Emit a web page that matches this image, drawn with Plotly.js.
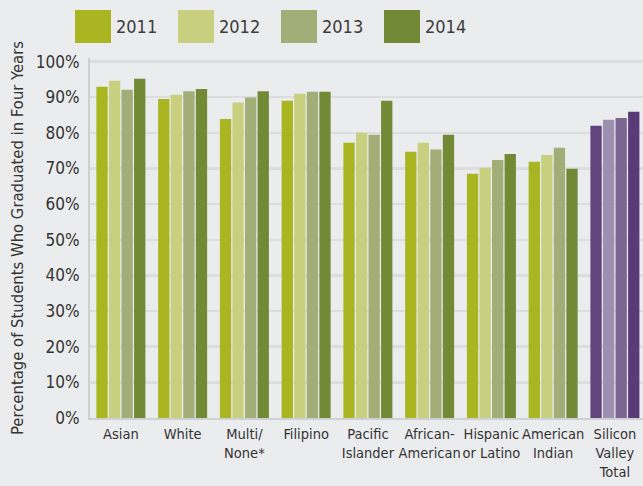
<!DOCTYPE html>
<html><head><meta charset="utf-8">
<script src="https://cdn.plot.ly/plotly-3.0.1.min.js"></script>
<style>html,body{margin:0;padding:0;background:#ebecee;}#chart{width:643px;height:486px;}</style>
</head><body><div id="chart"></div>
<script>
const categories = ["Asian","White","Multi/<br>None*","Filipino","Pacific<br>Islander","African-<br>American","Hispanic<br>or Latino","American<br>Indian","Silicon<br>Valley<br>Total"];
const years = ["2011","2012","2013","2014"];
const v2011 = [92.9, 89.5, 83.9, 89.0, 77.2, 74.7, 68.5, 71.9, 82.0];
const v2012 = [94.6, 90.7, 88.5, 91.0, 80.0, 77.2, 70.2, 73.8, 83.7];
const v2013 = [92.1, 91.7, 89.9, 91.5, 79.5, 75.3, 72.4, 75.8, 84.2];
const v2014 = [95.2, 92.3, 91.7, 91.5, 89.0, 79.5, 74.1, 69.9, 85.9];
const yTicks = [0,10,20,30,40,50,60,70,80,90,100];
const greens = ["#a9b621","#c8cf7f","#a2ad77","#728a36"];
const purples = ["#61457c","#9e8eb0","#7c6591","#5a3b77"];
const series = [v2011, v2012, v2013, v2014];

const FONT = "'DejaVu Sans Condensed','Liberation Sans Narrow','Arial Narrow',sans-serif";
const traces = series.map((vals, i) => ({
  type: 'bar', name: years[i], x: categories, y: vals,
  marker: {color: categories.map((c, j) => j === categories.length - 1 ? purples[i] : greens[i])},
  hoverinfo: 'none', showlegend: false
}));

const L = 90, R = 643, T = 58, B = 417.6;
const px = x => (x - L) / (R - L);
const py = y => (B - y) / (B - T);
const shapes = [], annotations = [];
years.forEach((yr, i) => {
  const x0 = 75 + 103 * i;
  shapes.push({type: 'rect', xref: 'paper', yref: 'paper', x0: px(x0), x1: px(x0 + 36), y0: py(43), y1: py(10), fillcolor: greens[i], line: {width: 0}});
  annotations.push({xref: 'paper', yref: 'paper', x: px(x0 + 39), y: py(27), xanchor: 'left', yanchor: 'middle', text: yr, showarrow: false, font: {family: FONT, size: 18, color: '#3c3c3c'}});
});

const layout = {
  width: 643, height: 486,
  margin: {l: L, r: 0, t: T, b: 486 - B},
  paper_bgcolor: '#ebecee', plot_bgcolor: '#ebecee',
  barmode: 'group', bargap: 0.186, bargroupgap: 0.1,
  font: {family: FONT, color: '#333333', size: 15},
  xaxis: {range: [-0.5, 8.455], showgrid: false, showline: true, linecolor: '#cfd0d2', linewidth: 2, ticks: '', tickangle: 0, tickfont: {size: 14.5}, ticklabelstandoff: 2, fixedrange: true},
  yaxis: {range: [0, 101], tickvals: yTicks, ticktext: yTicks.map(v => v + '%'), showgrid: true, gridcolor: '#dcdddf', gridwidth: 2.5, zeroline: false, showline: true, linecolor: '#cfd0d2', linewidth: 2, ticks: '', tickfont: {size: 17}, ticklabelstandoff: 5,
    title: {text: 'Percentage of Students Who Graduated in Four Years', font: {size: 16.5}, standoff: 8}},
  shapes: shapes, annotations: annotations, showlegend: false
};
Plotly.newPlot('chart', traces, layout, {staticPlot: true});
</script></body></html>
